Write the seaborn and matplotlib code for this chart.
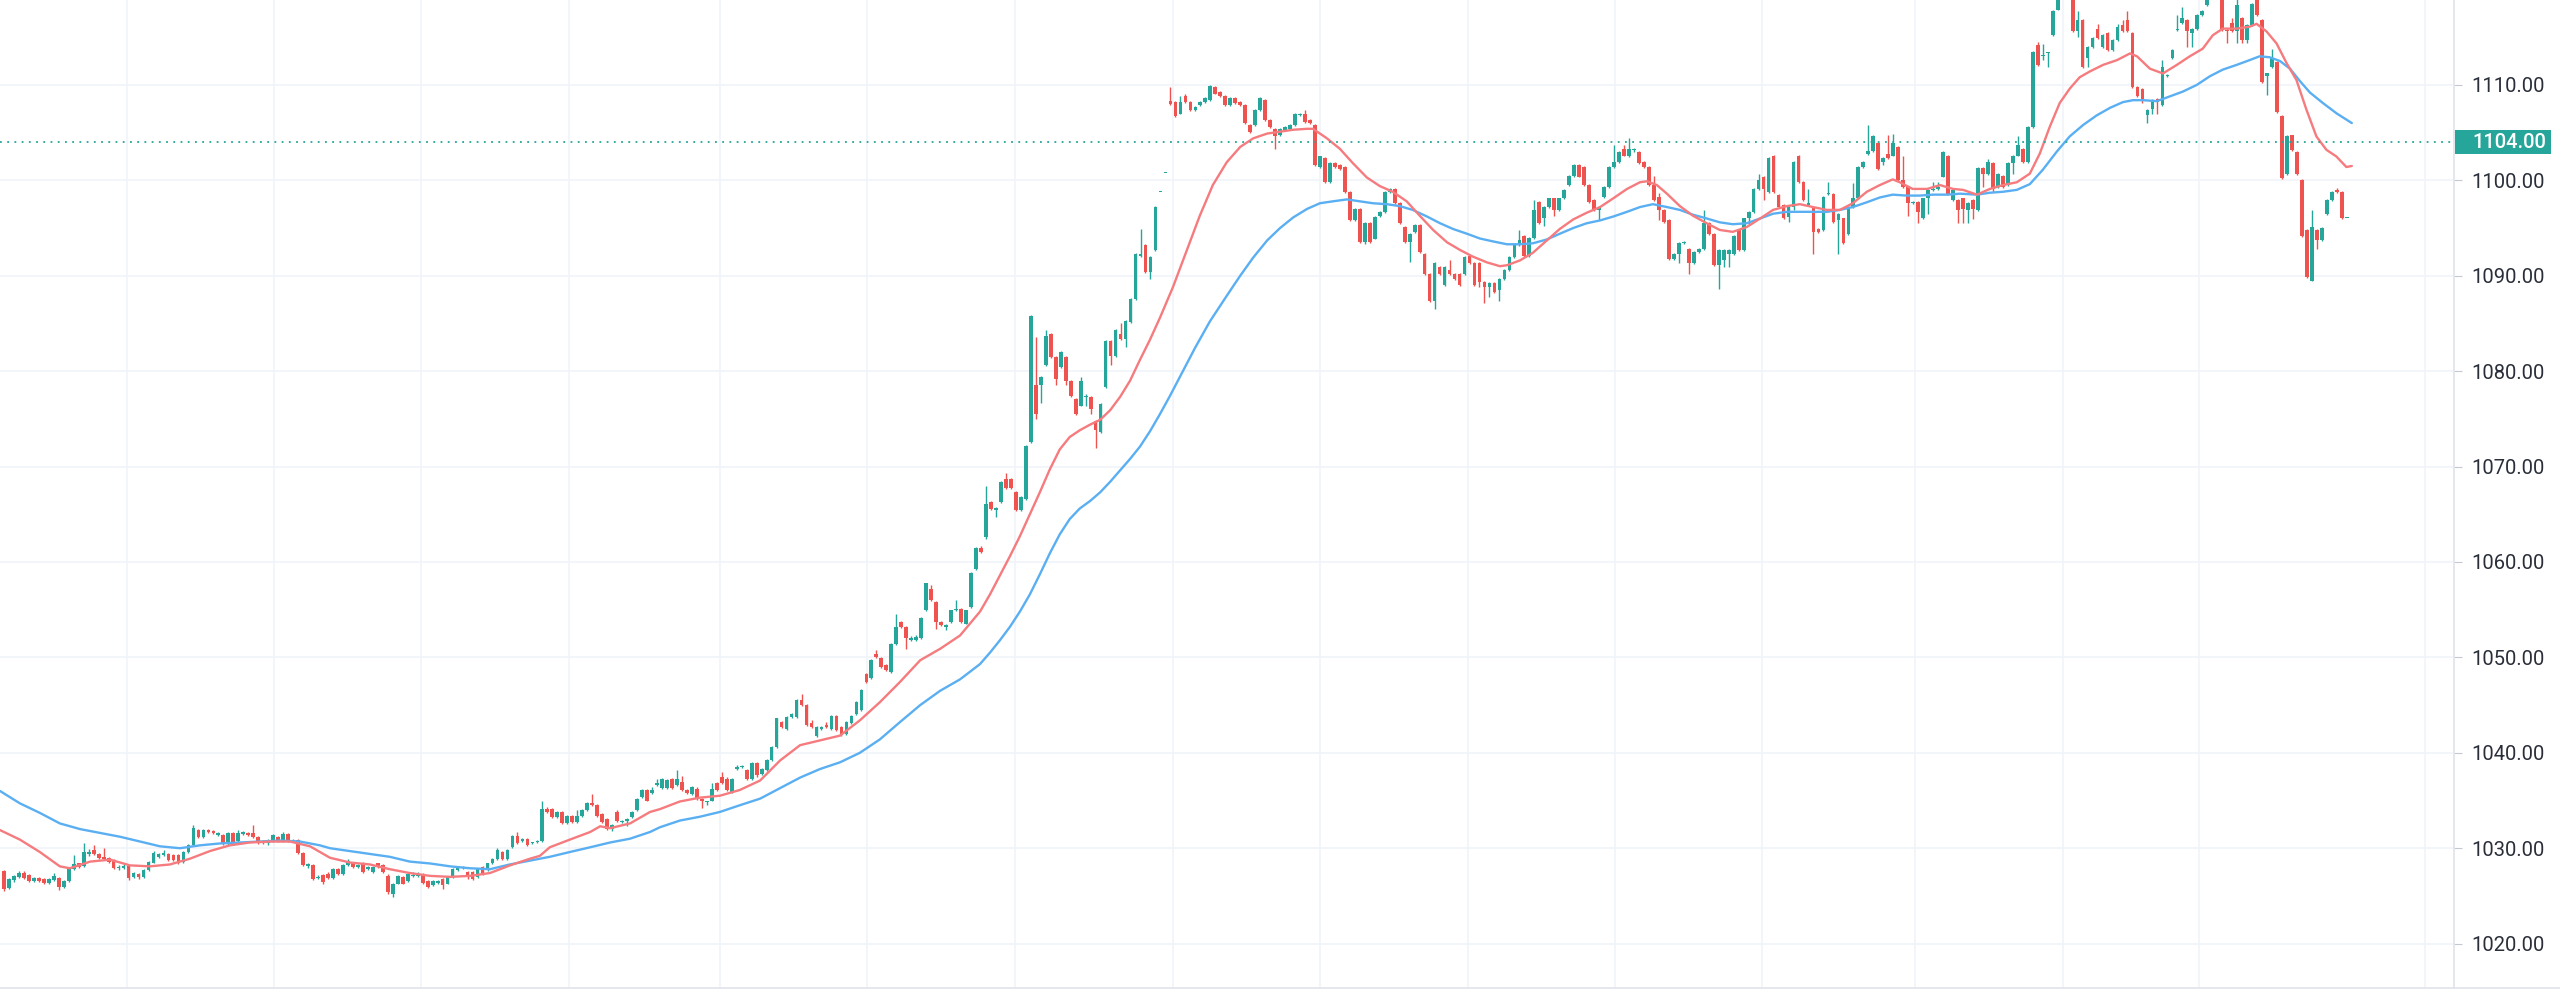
import matplotlib.pyplot as plt
import matplotlib.transforms as mtransforms
from matplotlib.patches import Rectangle
from matplotlib.lines import Line2D
import numpy as np
import pandas as pd
import seaborn as sns

# candles as (open, high, low, close), read segment by segment from left to right
candles_a = [
    (1027.6, 1027.7, 1025.5, 1025.7), (1025.8, 1026.9, 1025.7, 1026.8), (1026.7, 1027.2, 1026.5, 1027.1),
    (1027.0, 1027.6, 1026.9, 1027.4), (1027.4, 1027.6, 1026.8, 1026.9), (1027.2, 1027.3, 1026.5, 1026.6),
    (1026.6, 1027.0, 1026.5, 1026.9), (1026.9, 1027.0, 1026.5, 1026.6), (1026.8, 1026.9, 1026.3, 1026.4),
    (1026.4, 1026.9, 1026.3, 1026.8), (1026.7, 1027.4, 1026.6, 1027.1), (1026.9, 1027.0, 1025.6, 1025.9),
    (1025.9, 1026.7, 1025.8, 1026.6), (1026.6, 1028.0, 1026.5, 1027.9), (1027.8, 1029.3, 1027.7, 1028.3),
    (1028.4, 1028.5, 1027.9, 1028.0), (1028.1, 1030.5, 1028.0, 1029.6), (1029.4, 1029.9, 1029.2, 1029.6),
    (1029.8, 1030.3, 1029.3, 1029.4), (1029.4, 1029.5, 1028.9, 1029.0), (1029.1, 1030.0, 1028.8, 1028.9),
    (1029.0, 1029.1, 1028.5, 1028.6), (1028.8, 1028.9, 1027.8, 1027.9), (1027.9, 1028.2, 1027.7, 1028.0),
    (1027.9, 1028.3, 1027.8, 1028.1), (1028.1, 1028.2, 1026.7, 1026.9), (1027.0, 1027.5, 1026.9, 1027.4),
    (1027.3, 1027.4, 1026.8, 1027.0), (1027.0, 1027.8, 1026.9, 1027.7), (1027.7, 1028.7, 1027.6, 1028.6),
    (1028.5, 1029.7, 1028.4, 1029.5), (1029.1, 1029.5, 1029.0, 1029.4), (1029.3, 1029.8, 1029.2, 1029.5),
    (1029.4, 1029.5, 1028.7, 1028.8), (1029.3, 1029.4, 1028.7, 1028.8), (1029.3, 1029.4, 1028.3, 1028.4),
    (1028.6, 1029.7, 1028.5, 1029.6), (1029.6, 1030.4, 1029.5, 1030.3), (1030.3, 1032.4, 1030.2, 1032.1),
    (1031.9, 1032.0, 1031.1, 1031.2), (1031.2, 1032.0, 1031.1, 1031.9), (1031.9, 1032.0, 1031.6, 1031.7),
    (1031.8, 1031.9, 1031.5, 1031.6), (1031.4, 1031.7, 1031.3, 1031.6), (1031.4, 1031.5, 1030.3, 1030.4),
    (1030.4, 1031.7, 1030.3, 1031.6), (1031.6, 1031.7, 1030.6, 1030.7), (1030.8, 1031.9, 1030.7, 1031.6),
    (1031.5, 1031.8, 1031.4, 1031.7), (1031.6, 1031.7, 1031.3, 1031.4), (1031.6, 1032.4, 1031.1, 1031.2),
    (1031.2, 1031.3, 1030.4, 1030.5), (1030.8, 1030.9, 1030.4, 1030.5), (1030.5, 1031.0, 1030.3, 1030.9),
    (1030.7, 1031.5, 1030.6, 1031.4), (1031.2, 1031.3, 1030.6, 1030.7), (1030.7, 1031.7, 1030.6, 1031.5),
    (1031.5, 1031.6, 1030.6, 1030.7), (1030.7, 1031.0, 1030.6, 1030.9), (1030.9, 1031.0, 1029.4, 1029.5),
    (1029.5, 1029.6, 1028.1, 1028.2), (1028.1, 1028.4, 1027.9, 1028.3), (1028.2, 1028.3, 1026.7, 1026.8),
    (1026.9, 1027.2, 1026.8, 1027.0), (1027.2, 1027.3, 1026.2, 1026.5),
]
candles_b = [
    (1027.3, 1027.5, 1026.8, 1026.9), (1026.9, 1027.9, 1026.8, 1027.8), (1027.8, 1027.9, 1027.2, 1027.3),
    (1027.3, 1028.3, 1027.2, 1028.2), (1028.2, 1028.9, 1028.1, 1028.7), (1028.5, 1028.6, 1027.9, 1028.0),
    (1028.0, 1028.3, 1027.9, 1028.2), (1028.4, 1028.6, 1027.4, 1027.5), (1027.8, 1028.1, 1027.7, 1028.0),
    (1027.5, 1028.1, 1027.4, 1028.0), (1028.4, 1028.5, 1027.9, 1028.0), (1028.2, 1028.3, 1027.4, 1027.5),
    (1027.1, 1027.3, 1025.2, 1025.4), (1025.2, 1026.4, 1024.9, 1026.3), (1026.3, 1027.2, 1026.2, 1027.1),
    (1027.0, 1027.1, 1026.2, 1026.3), (1026.6, 1027.4, 1026.5, 1027.3), (1027.1, 1027.5, 1027.0, 1027.2),
    (1027.1, 1027.5, 1027.0, 1027.3), (1027.3, 1027.4, 1026.3, 1026.4), (1026.6, 1026.7, 1025.8, 1025.9),
    (1026.1, 1026.7, 1026.0, 1026.6), (1026.4, 1026.7, 1026.3, 1026.6), (1026.8, 1026.9, 1025.7, 1026.1),
    (1026.3, 1027.1, 1026.2, 1027.0), (1027.0, 1027.9, 1026.9, 1027.8), (1027.7, 1028.1, 1027.6, 1028.0),
    (1027.9, 1028.1, 1027.8, 1028.0), (1027.5, 1027.6, 1026.8, 1027.0), (1027.5, 1027.6, 1026.7, 1026.8),
    (1027.0, 1027.9, 1026.9, 1027.8), (1028.0, 1028.1, 1027.2, 1027.3), (1027.7, 1028.5, 1027.6, 1028.4),
    (1028.4, 1029.0, 1028.3, 1028.9), (1028.9, 1030.0, 1028.8, 1029.8), (1029.6, 1029.7, 1028.8, 1028.9),
    (1028.9, 1029.9, 1028.8, 1029.8), (1030.1, 1031.4, 1030.0, 1031.3), (1031.3, 1031.7, 1030.4, 1030.5),
    (1030.8, 1031.1, 1030.7, 1031.0), (1031.0, 1031.1, 1030.2, 1030.3), (1030.5, 1030.7, 1030.4, 1030.6),
    (1030.6, 1030.9, 1030.5, 1030.8), (1030.8, 1035.0, 1030.7, 1034.1), (1034.1, 1034.3, 1033.7, 1033.8),
    (1034.1, 1034.2, 1033.2, 1033.3), (1033.3, 1033.9, 1033.2, 1033.8), (1033.8, 1033.9, 1032.5, 1032.6),
    (1032.6, 1033.5, 1032.5, 1033.4), (1033.4, 1033.5, 1032.6, 1032.7), (1032.7, 1034.0, 1032.6, 1033.4),
    (1033.4, 1034.1, 1033.3, 1034.0), (1034.0, 1034.8, 1033.9, 1034.7), (1034.7, 1035.7, 1034.4, 1034.5),
    (1034.5, 1034.6, 1033.3, 1033.4), (1033.6, 1033.7, 1032.6, 1032.7), (1033.1, 1033.2, 1031.9, 1032.0),
    (1032.0, 1032.5, 1031.8, 1032.4), (1033.8, 1034.0, 1032.8, 1032.9), (1032.7, 1033.0, 1032.6, 1032.9),
    (1032.9, 1033.2, 1032.3, 1033.1), (1033.3, 1033.9, 1033.2, 1033.8), (1034.0, 1035.3, 1033.9, 1035.2),
    (1035.4, 1036.2, 1035.3, 1036.1), (1036.1, 1036.2, 1034.9, 1035.0), (1035.8, 1036.4, 1035.7, 1036.1),
    (1036.6, 1037.3, 1036.5, 1036.8),
]
candles_c = [
    (1036.3, 1037.4, 1036.2, 1037.3), (1036.3, 1037.3, 1036.2, 1037.2), (1037.3, 1037.4, 1036.2, 1036.3),
    (1036.6, 1038.2, 1036.5, 1037.3), (1036.95, 1037.6, 1036.0, 1036.1), (1036.1, 1036.2, 1035.7, 1035.8),
    (1035.7, 1036.5, 1035.6, 1036.4), (1036.25, 1036.4, 1035.1, 1035.2), (1035.2, 1035.3, 1034.2, 1035.0),
    (1034.8, 1035.0, 1034.5, 1034.9), (1035.0, 1036.8, 1034.9, 1036.25), (1036.8, 1036.9, 1036.0, 1036.1),
    (1037.5, 1038.0, 1036.7, 1036.8), (1037.3, 1037.5, 1036.0, 1036.1), (1035.9, 1037.4, 1035.8, 1037.3),
    (1038.3, 1038.7, 1038.2, 1038.5), (1038.5, 1038.7, 1038.4, 1038.6), (1038.2, 1038.3, 1037.2, 1037.3),
    (1037.3, 1039.0, 1037.2, 1038.9), (1038.9, 1039.0, 1037.5, 1037.65), (1037.8, 1038.4, 1037.7, 1038.3),
    (1038.2, 1039.3, 1038.1, 1039.2), (1039.2, 1040.7, 1039.1, 1040.6), (1040.6, 1043.7, 1040.5, 1043.6),
    (1043.2, 1043.3, 1042.6, 1042.7), (1042.5, 1043.9, 1042.4, 1043.8), (1043.8, 1044.2, 1043.7, 1044.1),
    (1043.8, 1045.6, 1043.7, 1045.5), (1045.5, 1046.2, 1044.9, 1045.0), (1045.0, 1045.1, 1042.8, 1042.9),
    (1043.1, 1043.4, 1042.6, 1042.7), (1041.8, 1042.8, 1041.7, 1042.7), (1042.5, 1042.8, 1042.4, 1042.7),
    (1042.9, 1043.2, 1042.6, 1042.7), (1042.5, 1044.0, 1042.4, 1043.9), (1043.9, 1044.0, 1042.3, 1042.4),
    (1042.7, 1042.8, 1041.8, 1042.0), (1042.0, 1043.3, 1041.9, 1043.2), (1043.1, 1044.0, 1043.0, 1043.9),
    (1044.1, 1045.4, 1044.0, 1045.3), (1044.5, 1046.7, 1044.4, 1046.6), (1048.3, 1048.4, 1047.3, 1047.4),
    (1047.8, 1049.8, 1047.7, 1049.7), (1050.4, 1050.75, 1049.9, 1050.05), (1049.9, 1050.0, 1048.9, 1049.0),
    (1049.2, 1049.3, 1048.6, 1048.7), (1048.5, 1051.5, 1048.4, 1051.45), (1051.45, 1054.6, 1051.3, 1053.2),
    (1053.7, 1053.8, 1053.1, 1053.2), (1053.2, 1053.3, 1050.9, 1052.0), (1051.8, 1052.2, 1051.7, 1052.0),
    (1051.8, 1052.3, 1051.7, 1052.15), (1052.0, 1054.2, 1051.9, 1054.1), (1054.95, 1057.8, 1054.9, 1057.75),
    (1057.2, 1057.6, 1055.9, 1056.0), (1055.8, 1055.9, 1053.0, 1053.7), (1053.7, 1053.8, 1053.3, 1053.4),
    (1053.2, 1053.5, 1052.9, 1053.4), (1053.7, 1055.0, 1053.6, 1054.95), (1054.95, 1056.0, 1054.9, 1055.1),
    (1055.1, 1055.2, 1053.6, 1053.7), (1053.55, 1055.0, 1053.5, 1054.95), (1055.3, 1058.9, 1055.2, 1058.8),
    (1059.3, 1061.6, 1059.2, 1061.5), (1061.5, 1061.7, 1060.9, 1061.0),
]
candles_d = [
    (1062.6, 1068.0, 1062.4, 1066.1), (1066.3, 1066.4, 1065.5, 1065.6), (1065.4, 1065.8, 1064.7, 1065.7),
    (1066.3, 1068.5, 1066.2, 1068.4), (1068.7, 1069.3, 1067.7, 1067.8), (1068.7, 1068.8, 1067.7, 1067.8),
    (1067.3, 1067.4, 1065.3, 1065.4), (1065.4, 1066.9, 1065.3, 1066.8), (1066.6, 1072.3, 1066.5, 1072.2),
    (1072.6, 1085.9, 1072.5, 1085.8), (1078.5, 1083.6, 1075.0, 1075.5), (1078.5, 1079.5, 1076.7, 1079.4),
    (1080.6, 1084.3, 1080.5, 1083.7), (1083.9, 1084.0, 1081.4, 1081.5), (1081.5, 1081.6, 1078.5, 1079.2),
    (1080.4, 1082.1, 1080.3, 1082.0), (1081.5, 1081.6, 1078.5, 1079.0), (1079.0, 1079.1, 1077.3, 1077.4),
    (1077.1, 1077.2, 1075.4, 1075.5), (1076.4, 1079.4, 1076.3, 1079.0), (1077.3, 1077.6, 1076.3, 1077.4),
    (1077.3, 1077.4, 1075.5, 1076.0), (1074.8, 1074.9, 1071.9, 1073.8), (1073.6, 1076.7, 1073.5, 1076.6),
    (1078.3, 1083.3, 1078.2, 1083.2), (1083.2, 1083.3, 1080.6, 1081.6), (1081.6, 1084.4, 1081.5, 1084.3),
    (1083.9, 1085.0, 1083.3, 1083.4), (1083.4, 1085.4, 1082.5, 1085.3), (1085.1, 1087.7, 1085.0, 1087.6),
    (1087.6, 1092.4, 1087.5, 1092.3), (1092.1, 1094.9, 1092.0, 1092.3), (1093.2, 1093.3, 1090.3, 1090.4),
    (1090.4, 1092.1, 1089.7, 1092.0), (1092.7, 1097.3, 1092.6, 1097.2), (1098.8, 1098.8, 1098.8, 1098.8),
    (1100.8, 1100.8, 1100.8, 1100.8),
]
candles_e = [
    (1108.3, 1109.8, 1107.9, 1108.0), (1108.2, 1108.3, 1106.6, 1106.7), (1107.0, 1108.8, 1106.9, 1108.2),
    (1108.8, 1109.1, 1108.1, 1108.2), (1108.2, 1108.3, 1107.3, 1107.4), (1107.4, 1107.8, 1107.3, 1107.7),
    (1107.9, 1108.3, 1107.8, 1108.2), (1108.2, 1108.7, 1108.1, 1108.6), (1108.4, 1110.0, 1108.3, 1109.9),
    (1109.8, 1109.9, 1109.0, 1109.1), (1109.3, 1109.4, 1108.7, 1108.8), (1108.8, 1108.9, 1107.8, 1107.9),
    (1107.9, 1108.7, 1107.8, 1108.6), (1108.6, 1108.7, 1108.0, 1108.1), (1108.2, 1108.3, 1107.8, 1107.9),
    (1107.9, 1108.0, 1105.9, 1106.0), (1105.8, 1105.9, 1105.0, 1105.1), (1105.8, 1107.5, 1105.7, 1107.4),
    (1107.4, 1108.7, 1107.3, 1108.6), (1108.4, 1108.5, 1106.2, 1106.3), (1106.3, 1106.4, 1105.5, 1105.6),
    (1105.4, 1105.5, 1103.3, 1104.6), (1104.7, 1105.5, 1104.6, 1105.4), (1105.3, 1105.7, 1105.2, 1105.6),
    (1105.4, 1105.9, 1105.3, 1105.8), (1105.8, 1107.1, 1105.7, 1107.0), (1106.8, 1107.1, 1106.7, 1107.0),
    (1107.0, 1107.4, 1106.0, 1106.1), (1106.3, 1106.4, 1105.9, 1106.0), (1105.8, 1105.9, 1101.5, 1101.6),
    (1101.4, 1102.6, 1101.3, 1102.5), (1102.3, 1102.4, 1099.7, 1099.8), (1099.8, 1101.9, 1099.7, 1101.8),
    (1101.8, 1101.9, 1101.3, 1101.4), (1101.6, 1101.7, 1101.1, 1101.2), (1101.4, 1101.5, 1098.7, 1098.8),
    (1098.8, 1098.9, 1095.7, 1095.8), (1095.8, 1097.1, 1095.7, 1097.0), (1097.0, 1097.1, 1093.4, 1093.5),
    (1093.5, 1095.6, 1093.3, 1095.5), (1095.5, 1095.6, 1093.4, 1093.5), (1093.9, 1096.3, 1093.8, 1096.2),
    (1096.3, 1096.8, 1096.2, 1096.7), (1096.7, 1098.9, 1096.6, 1098.8), (1098.8, 1099.2, 1098.7, 1099.1),
    (1099.1, 1099.2, 1097.5, 1097.6), (1097.6, 1097.7, 1095.4, 1095.5), (1095.1, 1095.2, 1093.4, 1093.5),
    (1093.5, 1094.5, 1091.4, 1094.4), (1094.6, 1095.4, 1094.5, 1095.3), (1095.3, 1095.4, 1092.4, 1092.5),
    (1092.3, 1092.4, 1090.1, 1090.2), (1090.2, 1090.3, 1087.3, 1087.4), (1087.4, 1091.4, 1086.5, 1091.3),
    (1090.9, 1091.0, 1090.1, 1090.2), (1089.0, 1091.0, 1088.9, 1090.9), (1090.6, 1091.6, 1090.1, 1090.2),
    (1090.2, 1090.3, 1089.6, 1089.7), (1090.2, 1090.3, 1088.9, 1089.0), (1090.2, 1092.1, 1090.1, 1092.0),
    (1092.1, 1092.2, 1091.2, 1091.3), (1091.3, 1091.4, 1088.9, 1089.0),
]
candles_f = [
    (1091.3, 1091.4, 1088.8, 1089.3), (1089.3, 1089.4, 1087.1, 1088.8), (1088.8, 1089.3, 1087.8, 1089.2),
    (1089.2, 1089.3, 1088.2, 1088.3), (1088.5, 1089.8, 1087.4, 1089.7), (1089.7, 1090.7, 1089.6, 1090.6),
    (1090.6, 1092.1, 1090.5, 1092.0), (1092.0, 1093.3, 1091.9, 1093.2), (1093.2, 1094.8, 1093.1, 1093.7),
    (1094.2, 1094.3, 1092.0, 1092.1), (1092.1, 1094.1, 1092.0, 1094.0), (1094.0, 1097.9, 1093.9, 1096.9),
    (1097.7, 1097.8, 1095.4, 1095.5), (1096.0, 1097.3, 1095.2, 1097.2), (1097.2, 1098.2, 1097.1, 1098.1),
    (1098.1, 1098.2, 1096.3, 1096.9), (1096.9, 1098.2, 1096.8, 1098.1), (1098.1, 1099.1, 1098.0, 1099.0),
    (1099.5, 1100.6, 1099.4, 1100.5), (1100.5, 1101.7, 1100.4, 1101.6), (1101.6, 1101.7, 1100.3, 1100.4),
    (1101.4, 1101.5, 1099.4, 1099.5), (1099.5, 1099.6, 1097.6, 1097.7), (1097.9, 1098.0, 1096.8, 1096.9),
    (1096.9, 1097.3, 1095.8, 1097.2), (1098.3, 1099.4, 1098.2, 1099.3), (1099.3, 1101.5, 1099.2, 1101.4),
    (1101.4, 1103.7, 1101.3, 1101.9), (1101.9, 1103.1, 1101.8, 1103.0), (1103.3, 1103.7, 1102.5, 1102.6),
    (1102.5, 1104.4, 1102.4, 1103.3), (1103.2, 1103.4, 1103.0, 1103.3), (1103.0, 1103.1, 1101.7, 1101.8),
    (1101.9, 1102.0, 1101.3, 1101.4), (1101.4, 1101.5, 1099.4, 1099.5), (1099.5, 1100.5, 1097.8, 1097.9),
    (1098.3, 1098.7, 1095.8, 1096.9), (1096.9, 1097.0, 1095.5, 1095.6), (1095.8, 1095.9, 1091.7, 1091.8),
    (1091.8, 1092.4, 1091.7, 1092.3), (1092.3, 1093.5, 1091.3, 1093.4), (1093.4, 1093.6, 1093.3, 1093.5),
    (1092.8, 1092.9, 1090.2, 1091.3), (1091.3, 1092.6, 1091.2, 1092.5), (1092.5, 1092.9, 1092.4, 1092.8),
    (1092.8, 1096.9, 1092.7, 1095.5), (1095.5, 1095.6, 1094.3, 1094.4), (1094.4, 1094.5, 1091.0, 1091.1),
    (1091.1, 1092.8, 1088.6, 1092.7),
]
candles_g = [
    (1091.6, 1092.8, 1090.9, 1092.7), (1092.3, 1092.8, 1090.9, 1092.7), (1092.3, 1094.3, 1092.2, 1094.2),
    (1094.8, 1094.9, 1092.6, 1092.7), (1092.7, 1096.1, 1092.6, 1096.0), (1096.0, 1096.8, 1095.3, 1096.7),
    (1096.7, 1099.2, 1096.6, 1099.1), (1099.1, 1100.7, 1099.0, 1100.0), (1100.4, 1100.5, 1097.9, 1099.1),
    (1098.8, 1102.4, 1098.7, 1102.3), (1102.6, 1102.7, 1098.7, 1098.8), (1098.5, 1098.6, 1097.1, 1097.2),
    (1097.4, 1097.5, 1095.9, 1096.0), (1096.2, 1097.3, 1095.6, 1097.2), (1097.2, 1102.0, 1096.9, 1101.9),
    (1102.6, 1102.7, 1099.7, 1099.8), (1099.8, 1099.9, 1097.8, 1097.9), (1097.4, 1099.1, 1097.3, 1097.6),
    (1097.2, 1097.3, 1092.3, 1094.6), (1094.9, 1095.0, 1094.5, 1094.6), (1094.8, 1098.4, 1094.7, 1098.3),
    (1098.6, 1099.8, 1098.5, 1098.7), (1098.6, 1098.7, 1095.5, 1095.6), (1095.8, 1096.6, 1092.3, 1096.5),
    (1096.0, 1096.1, 1093.3, 1093.4), (1094.4, 1097.3, 1094.3, 1097.2), (1097.2, 1099.7, 1097.1, 1098.1),
    (1098.1, 1101.5, 1098.0, 1101.4), (1101.4, 1102.0, 1101.3, 1101.9), (1102.8, 1105.8, 1102.7, 1103.1),
    (1103.1, 1104.7, 1103.0, 1104.6), (1103.9, 1104.0, 1101.1, 1101.2), (1101.9, 1102.4, 1101.6, 1102.3),
    (1102.8, 1104.7, 1102.2, 1102.3), (1102.6, 1104.9, 1102.5, 1103.9), (1103.5, 1103.6, 1099.9, 1100.0),
    (1100.0, 1102.5, 1099.2, 1099.3), (1099.3, 1099.4, 1096.3, 1097.6), (1097.6, 1097.8, 1097.5, 1097.7),
    (1097.7, 1097.8, 1095.5, 1096.7), (1096.0, 1098.2, 1095.9, 1098.1), (1098.1, 1099.1, 1096.5, 1099.0),
    (1099.0, 1099.8, 1098.9, 1099.1), (1099.1, 1099.8, 1099.0, 1099.3), (1100.4, 1103.1, 1100.3, 1103.0),
    (1102.5, 1102.7, 1098.5, 1098.6), (1097.9, 1099.1, 1097.8, 1099.0),
]
candles_h = [
    (1097.9, 1098.0, 1095.5, 1096.9), (1098.1, 1098.2, 1095.5, 1097.0), (1096.9, 1097.7, 1095.5, 1097.6),
    (1097.9, 1098.0, 1095.9, 1097.0), (1096.9, 1101.4, 1096.8, 1101.3), (1101.3, 1101.4, 1099.3, 1100.7),
    (1100.7, 1102.2, 1100.6, 1101.9), (1101.8, 1101.9, 1098.8, 1099.1), (1099.3, 1100.8, 1099.2, 1100.7),
    (1100.5, 1100.6, 1099.2, 1099.3), (1099.5, 1101.9, 1099.4, 1101.8), (1101.8, 1102.7, 1100.7, 1102.6),
    (1102.6, 1104.6, 1102.5, 1103.7), (1103.3, 1103.4, 1101.8, 1101.9), (1101.9, 1105.7, 1101.8, 1105.6),
    (1105.6, 1113.6, 1105.5, 1113.5), (1114.2, 1114.5, 1112.0, 1112.1), (1113.0, 1114.3, 1112.6, 1113.1),
    (1113.3, 1113.5, 1111.9, 1113.4), (1115.2, 1117.8, 1115.1, 1117.7), (1117.9, 1119.7, 1117.8, 1119.6),
    (1119.6, 1121.2, 1119.5, 1120.8), (1121.0, 1121.4, 1120.0, 1120.2), (1120.2, 1120.4, 1115.5, 1115.6),
    (1115.6, 1117.7, 1115.0, 1116.8), (1116.8, 1116.9, 1111.8, 1111.9), (1112.8, 1114.1, 1111.9, 1114.0),
    (1114.0, 1115.0, 1113.9, 1114.9), (1115.9, 1116.4, 1114.8, 1114.9), (1114.0, 1115.3, 1113.9, 1115.2),
    (1115.4, 1115.5, 1113.6, 1113.7), (1113.7, 1114.8, 1113.6, 1114.7), (1114.7, 1116.4, 1114.6, 1116.1),
    (1116.3, 1116.8, 1115.5, 1115.6), (1116.8, 1117.7, 1115.5, 1115.6), (1115.4, 1115.5, 1109.7, 1109.8),
    (1109.8, 1109.9, 1108.7, 1108.8), (1109.6, 1109.7, 1108.1, 1108.4), (1106.8, 1107.5, 1106.0, 1107.4),
    (1107.5, 1108.5, 1107.0, 1108.4), (1108.5, 1108.6, 1107.0, 1108.2), (1107.9, 1112.6, 1107.8, 1111.9),
    (1110.9, 1111.1, 1110.8, 1111.0), (1112.8, 1113.8, 1112.7, 1113.7), (1115.75, 1117.3, 1115.6, 1115.8),
    (1116.45, 1118.2, 1116.4, 1117.0), (1116.8, 1116.9, 1114.0, 1115.6), (1115.4, 1116.0, 1114.0, 1115.9),
    (1115.9, 1117.4, 1115.8, 1117.3), (1117.3, 1117.8, 1117.2, 1117.7), (1118.4, 1119.7, 1118.3, 1119.6),
    (1119.6, 1121.1, 1119.5, 1121.0), (1121.2, 1121.5, 1119.9, 1120.0), (1120.0, 1120.2, 1115.6, 1115.75),
    (1115.75, 1115.9, 1114.4, 1115.6), (1116.5, 1117.0, 1115.5, 1115.6), (1115.6, 1119.2, 1114.4, 1118.4),
    (1117.0, 1117.1, 1114.4, 1114.7), (1114.7, 1116.4, 1114.4, 1116.3), (1116.3, 1118.6, 1116.2, 1118.5),
    (1119.5, 1119.8, 1117.2, 1117.3), (1116.8, 1116.9, 1110.2, 1110.3), (1110.9, 1111.3, 1108.9, 1111.2),
    (1111.9, 1113.8, 1111.8, 1112.8), (1112.4, 1112.5, 1107.1, 1107.2), (1106.7, 1106.8, 1100.1, 1100.2),
    (1100.7, 1104.7, 1100.6, 1104.6), (1104.7, 1104.8, 1103.1, 1103.2), (1103.0, 1103.1, 1100.6, 1100.7),
    (1100.0, 1100.1, 1094.1, 1094.2), (1094.8, 1094.9, 1089.8, 1089.9), (1089.5, 1096.9, 1089.4, 1095.1),
    (1094.8, 1094.9, 1092.8, 1093.7), (1093.7, 1095.1, 1093.6, 1095.0), (1096.5, 1098.0, 1096.4, 1097.9),
    (1097.9, 1098.9, 1097.8, 1098.8), (1099.0, 1099.2, 1098.7, 1098.8), (1098.8, 1098.9, 1095.9, 1096.0),
    (1096.0, 1096.0, 1096.0, 1096.0),
]

# moving averages as (bar index, price)
fast_ma = [
    (-0.8, 1031.9), (3.2, 1030.9), (7.2, 1029.6), (11.2, 1028.1), (13.2, 1027.9), (17.3, 1028.6), (21.3, 1028.8),
    (25.3, 1028.2), (29.3, 1028.1), (33.3, 1028.3), (37.3, 1028.9), (41.3, 1029.7), (45.3, 1030.3), (49.3, 1030.6),
    (53.4, 1030.7), (57.4, 1030.7), (61.4, 1030.2), (65.4, 1029.0), (69.4, 1028.5), (73.4, 1028.3), (77.4, 1027.8),
    (81.4, 1027.4), (85.5, 1027.1), (89.5, 1027.0), (93.5, 1027.1), (97.5, 1027.4), (101.5, 1028.2), (105.5, 1028.9),
    (107.5, 1029.2), (109.5, 1030.1), (113.5, 1030.9), (117.6, 1031.7), (119.6, 1032.3), (121.6, 1032.1),
    (125.6, 1032.6), (129.6, 1033.8), (131.6, 1034.1), (135.6, 1034.9), (139.6, 1035.3), (143.6, 1035.5),
    (147.6, 1036.1), (151.7, 1037.1), (155.7, 1039.2), (159.7, 1040.8), (163.7, 1041.3), (167.7, 1041.8),
    (171.7, 1043.4), (175.7, 1045.3), (179.7, 1047.4), (183.8, 1049.7), (187.8, 1050.9), (191.8, 1052.3),
    (195.8, 1054.8), (197.8, 1056.6), (199.8, 1058.6), (201.8, 1060.6), (203.8, 1062.7), (205.8, 1065.0),
    (207.8, 1067.3), (209.8, 1069.7), (211.8, 1071.8), (213.8, 1073.1), (215.8, 1073.8), (217.9, 1074.4),
    (219.9, 1074.9), (221.9, 1075.9), (223.9, 1077.3), (225.9, 1079.0), (227.9, 1081.2), (229.9, 1083.3),
    (231.9, 1085.6), (234.5, 1088.8), (237.3, 1092.7), (239.9, 1096.3), (242.5, 1099.5), (245.3, 1101.9),
    (248.0, 1103.5), (250.6, 1104.4), (253.4, 1104.9), (256.0, 1105.1), (258.6, 1105.3), (261.4, 1105.4),
    (262.6, 1105.4), (265.4, 1104.4), (268.0, 1103.3), (270.6, 1101.8), (273.4, 1100.3), (276.0, 1099.4),
    (278.6, 1098.8), (281.4, 1097.8), (284.0, 1096.3), (286.7, 1094.8), (289.5, 1093.5), (292.1, 1092.7),
    (294.7, 1092.0), (297.5, 1091.4), (300.1, 1091.0), (301.5, 1091.1), (304.1, 1091.6), (306.7, 1092.4),
    (309.5, 1093.7), (312.1, 1094.9), (314.8, 1095.9), (317.5, 1096.6), (320.2, 1097.2), (322.8, 1098.1),
    (325.6, 1099.1), (328.2, 1099.8), (329.6, 1099.9), (331.6, 1099.5), (333.6, 1098.6), (336.2, 1097.3),
    (338.8, 1096.3), (341.6, 1095.5), (344.2, 1094.8), (346.8, 1094.6), (349.6, 1095.1), (352.3, 1096.0),
    (354.9, 1096.9), (357.7, 1097.3), (360.3, 1097.5), (362.9, 1097.2), (365.7, 1096.9), (368.3, 1096.9),
    (370.9, 1097.6), (373.7, 1098.8), (376.3, 1099.5), (378.9, 1100.1), (380.3, 1099.8), (382.9, 1099.1),
    (385.8, 1099.1), (388.4, 1099.5), (391.0, 1099.1), (393.0, 1099.0), (395.8, 1098.5), (398.4, 1099.1),
    (401.0, 1099.5), (403.8, 1099.8), (406.4, 1100.7), (408.4, 1102.8), (410.4, 1105.6), (412.4, 1108.1),
    (414.4, 1109.6), (416.4, 1110.8), (418.4, 1111.4), (421.1, 1112.1), (423.9, 1112.6), (426.5, 1113.3),
    (427.9, 1113.0), (430.5, 1111.7), (433.1, 1111.2), (435.9, 1112.1), (438.5, 1113.0), (441.1, 1113.8),
    (443.1, 1115.2), (445.1, 1115.9), (447.9, 1115.9), (450.5, 1116.1), (451.9, 1116.4), (453.9, 1115.6),
    (455.9, 1114.35), (457.9, 1112.3), (459.9, 1110.5), (461.9, 1107.4), (463.9, 1104.6), (465.9, 1103.2),
    (467.9, 1102.5), (469.9, 1101.4), (471.0, 1101.5),
]
slow_ma = [
    (-0.8, 1036.0), (3.2, 1034.7), (7.2, 1033.7), (11.2, 1032.6), (15.3, 1032.0), (19.3, 1031.6), (23.3, 1031.2),
    (27.3, 1030.7), (31.3, 1030.2), (35.3, 1030.0), (39.3, 1030.3), (43.3, 1030.5), (47.3, 1030.6), (51.4, 1030.7),
    (55.4, 1030.8), (59.4, 1030.7), (63.4, 1030.3), (65.4, 1030.0), (69.4, 1029.7), (73.4, 1029.4), (77.4, 1029.1),
    (81.4, 1028.6), (85.5, 1028.4), (89.5, 1028.1), (93.5, 1027.9), (97.5, 1027.8), (101.5, 1028.3), (105.5, 1028.7),
    (109.5, 1029.1), (113.5, 1029.6), (117.6, 1030.1), (121.6, 1030.6), (125.6, 1031.0), (129.6, 1031.7),
    (131.6, 1032.2), (135.6, 1032.9), (139.6, 1033.3), (143.6, 1033.8), (147.6, 1034.5), (151.7, 1035.2),
    (155.7, 1036.3), (159.7, 1037.4), (163.7, 1038.3), (167.7, 1039.0), (171.7, 1040.0), (175.7, 1041.4),
    (179.7, 1043.2), (183.8, 1045.0), (187.8, 1046.5), (191.8, 1047.7), (195.8, 1049.3), (197.8, 1050.5),
    (199.8, 1051.8), (201.8, 1053.2), (203.8, 1054.8), (205.8, 1056.6), (207.8, 1058.7), (209.8, 1060.9),
    (211.8, 1062.9), (213.8, 1064.5), (215.8, 1065.6), (217.9, 1066.4), (219.9, 1067.3), (221.9, 1068.4),
    (223.9, 1069.6), (225.9, 1070.8), (227.9, 1072.1), (229.9, 1073.7), (231.9, 1075.5), (233.9, 1077.4),
    (235.9, 1079.4), (238.9, 1082.4), (241.9, 1085.2), (245.3, 1087.9), (248.0, 1090.0), (250.6, 1091.9),
    (253.4, 1093.7), (256.0, 1095.0), (258.6, 1096.1), (261.4, 1097.0), (264.0, 1097.6), (266.6, 1097.8),
    (269.4, 1098.0), (272.0, 1097.8), (274.6, 1097.6), (277.4, 1097.5), (280.0, 1097.3), (282.6, 1096.9),
    (285.5, 1096.2), (288.1, 1095.5), (290.7, 1094.9), (293.5, 1094.4), (296.1, 1093.9), (298.7, 1093.6),
    (301.5, 1093.3), (304.1, 1093.3), (306.7, 1093.4), (309.5, 1093.8), (312.1, 1094.4), (314.8, 1095.0),
    (317.5, 1095.5), (320.2, 1095.8), (322.8, 1096.2), (325.6, 1096.7), (328.2, 1097.2), (330.8, 1097.5),
    (333.6, 1097.2), (336.2, 1096.9), (338.8, 1096.4), (341.6, 1096.0), (344.2, 1095.6), (346.8, 1095.4),
    (349.6, 1095.5), (352.3, 1096.0), (354.9, 1096.5), (357.7, 1096.7), (360.3, 1096.7), (365.7, 1096.7),
    (368.3, 1096.9), (370.9, 1097.2), (373.7, 1097.7), (376.3, 1098.2), (378.9, 1098.5), (381.7, 1098.4),
    (384.3, 1098.4), (387.0, 1098.5), (389.8, 1098.5), (392.4, 1098.6), (395.8, 1098.5), (398.4, 1098.7),
    (401.0, 1098.8), (403.8, 1099.0), (406.4, 1099.6), (409.0, 1101.1), (411.8, 1103.0), (414.4, 1104.6),
    (417.1, 1105.8), (419.8, 1106.8), (422.5, 1107.6), (425.1, 1108.2), (427.1, 1108.4), (429.1, 1108.4),
    (431.9, 1108.3), (434.5, 1108.8), (437.1, 1109.3), (439.9, 1110.0), (442.5, 1110.9), (445.1, 1111.6),
    (447.9, 1112.1), (450.5, 1112.6), (452.5, 1113.0), (454.5, 1112.9), (456.6, 1112.5), (458.6, 1111.7),
    (460.6, 1110.4), (462.6, 1109.2), (465.2, 1108.1), (468.0, 1107.0), (471.0, 1106.0),
]

price_ticks = [1020, 1030, 1040, 1050, 1060, 1070, 1080, 1090, 1100, 1110]
time_grid = [24.7, 54.2, 83.7, 113.3, 143.6, 173.1, 202.8, 234.5, 264.0, 293.7, 323.2, 352.7, 383.3, 413.0, 440.3, 485.7]
last_price = 1104.00

UP = '#26a69a'
DOWN = '#ef5350'

candles = candles_a + candles_b + candles_c + candles_d + candles_e + candles_f + candles_g + candles_h
df = pd.DataFrame(candles, columns=['open', 'high', 'low', 'close'])
df['bar'] = np.arange(len(df))
df['color'] = np.where(df['close'] >= df['open'], UP, DOWN)
fast = pd.DataFrame(fast_ma, columns=['bar', 'price'])
slow = pd.DataFrame(slow_ma, columns=['bar', 'price'])

sns.set_theme(style='white')
plt.rcParams['font.family'] = ['Roboto', 'DejaVu Sans']

W, H = 2560, 994
fig = plt.figure(figsize=(W / 100, H / 100), dpi=100)
ax = fig.add_axes([0, 6 / H, 2454 / W, 988 / H])

ax.vlines(df['bar'], df['low'], df['high'], colors=df['color'], linewidth=1.0, zorder=2)
body = np.maximum((df['close'] - df['open']).abs(), 0.12)
ax.bar(df['bar'], body, bottom=np.minimum(df['open'], df['close']), width=0.74,
       color=df['color'], linewidth=0, zorder=3)

sns.lineplot(data=slow, x='bar', y='price', ax=ax, color='#5aaff2', linewidth=1.7,
             sort=False, estimator=None, zorder=4)
sns.lineplot(data=fast, x='bar', y='price', ax=ax, color='#f57b7e', linewidth=1.7,
             sort=False, estimator=None, zorder=4)

ax.axhline(last_price, color=UP, linestyle=(0, (1, 3)), linewidth=1.3, zorder=5)

ax.set_xlim(-0.8, 491.5)
ax.set_ylim(1015.35, 1118.9)
ax.set_xlabel('')
ax.set_ylabel('')

ax.set_xticks(time_grid)
ax.set_xticklabels([])
ax.set_yticks(price_ticks)
ax.set_yticklabels([f'{p:.2f}' for p in price_ticks])
ax.yaxis.tick_right()
ax.tick_params(axis='x', length=0)
ax.tick_params(axis='y', right=True, left=False, length=5.5, width=0.8, color='#c5c8d0',
               labelsize=14.5, labelcolor='#2a2e39', pad=7)
ax.grid(True, color='#f0f3fa', linewidth=1.2, zorder=0)
ax.set_axisbelow(True)

for side in ['top', 'left', 'bottom']:
    ax.spines[side].set_visible(False)
ax.spines['right'].set_color('#e0e3eb')
ax.spines['right'].set_linewidth(1.2)

fig.add_artist(Line2D([0, 1], [6 / H, 6 / H], transform=fig.transFigure, color='#e0e3eb', linewidth=1.2))

# current price tag on the price scale
blend = mtransforms.blended_transform_factory(fig.transFigure, ax.transData)
tag_half = 12 / 9.54
fig.add_artist(Rectangle((2455 / W, last_price - tag_half), 96 / W, 2 * tag_half, transform=blend,
                         facecolor=UP, edgecolor='none', clip_on=False))
fig.text(2472 / W, last_price, f'{last_price:.2f}', transform=blend, color='white',
         fontsize=14.5, fontweight='medium', va='center', ha='left')

fig.savefig('out.png', dpi=100)
